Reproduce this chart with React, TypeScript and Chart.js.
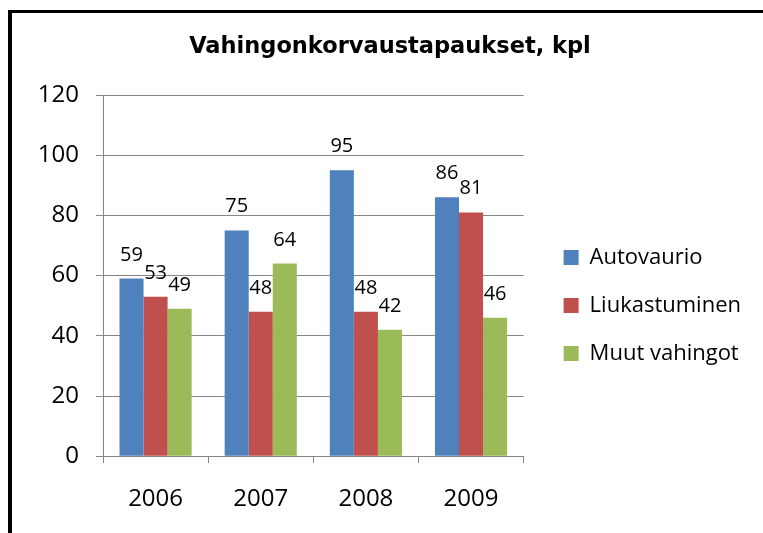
import React, { useEffect, useRef } from "react";
import { Chart, registerables } from "chart.js";

Chart.register(...registerables);

const categories = ["2006", "2007", "2008", "2009"];
const seriesNames = ["Autovaurio", "Liukastuminen", "Muut vahingot"];
const autovaurio = [59, 75, 95, 86];
const liukastuminen = [53, 48, 48, 81];
const muutVahingot = [49, 64, 42, 46];
const seriesColors = ["#4F81BD", "#C0504D", "#9BBB59"];
const yMin = 0;
const yMax = 120;
const yStep = 20;
const titleText = "Vahingonkorvaustapaukset, kpl";

const FONT = "'Open Sans', 'Liberation Sans', sans-serif";

const valueLabels = {
  id: "valueLabels",
  afterDatasetsDraw(chart: any) {
    const ctx = chart.ctx;
    ctx.save();
    ctx.font = `20px ${FONT}`;
    ctx.fillStyle = "#000000";
    ctx.textAlign = "center";
    ctx.textBaseline = "alphabetic";
    chart.data.datasets.forEach((ds: any, i: number) => {
      const meta = chart.getDatasetMeta(i);
      meta.data.forEach((bar: any, j: number) => {
        ctx.fillText(String(ds.data[j]), bar.x, bar.y - 18);
      });
    });
    ctx.restore();
  },
};

export default function App() {
  const ref = useRef<HTMLCanvasElement | null>(null);

  useEffect(() => {
    if (!ref.current) return;
    const seriesData = [autovaurio, liukastuminen, muutVahingot];
    const chart = new Chart(ref.current, {
      type: "bar",
      data: {
        labels: categories,
        datasets: seriesNames.map((name, i) => ({
          label: name,
          data: seriesData[i],
          backgroundColor: seriesColors[i],
          borderWidth: 0,
          categoryPercentage: 0.686,
          barPercentage: 1,
        })),
      },
      options: {
        animation: false,
        responsive: false,
        maintainAspectRatio: false,
        layout: { padding: { left: 17, right: 12, top: 0, bottom: -3 } },
        plugins: {
          title: {
            display: true,
            text: titleText,
            color: "#000000",
            font: { family: "'DejaVu Sans', sans-serif", size: 22.5, weight: "bold" },
            padding: { top: 21, bottom: 34 },
          },
          legend: {
            display: true,
            position: "right",
            maxWidth: 300,
            title: {
              display: true,
              text: "",
              font: { size: 10 },
              padding: { top: 50, bottom: 0 },
            },
            labels: {
              color: "#000000",
              font: { family: FONT, size: 22 },
              boxWidth: 15,
              boxHeight: 15,
              padding: 26,
            },
          },
          tooltip: { enabled: false },
        },
        scales: {
          x: {
            grid: {
              display: true,
              drawOnChartArea: false,
              drawTicks: true,
              tickLength: 7,
              color: "#868686",
              offset: true,
            },
            border: { display: true, color: "#868686", width: 1 },
            ticks: {
              color: "#000000",
              font: { family: FONT, size: 24 },
              padding: 22,
            },
          },
          y: {
            min: yMin,
            max: yMax,
            grid: {
              display: true,
              drawOnChartArea: true,
              drawTicks: true,
              tickLength: 7,
              color: "#868686",
            },
            border: { display: true, color: "#868686", width: 1 },
            ticks: {
              stepSize: yStep,
              color: "#000000",
              font: { family: FONT, size: 24 },
              padding: 17,
            },
            afterFit(scale: any) {
              scale.width = 74;
            },
          },
          gap: {
            type: "linear",
            position: "right",
            display: true,
            grid: { display: false },
            border: { display: false },
            ticks: { display: false },
            afterFit(scale: any) {
              scale.width = 14;
            },
          },
        },
      },
      plugins: [valueLabels],
    } as any);
    return () => chart.destroy();
  }, []);

  return (
    <>
      <div
        style={{
          position: "fixed",
          left: 8,
          top: 10,
          width: 755,
          height: 523,
          boxSizing: "border-box",
          borderLeft: "4px solid #000",
          borderTop: "3px solid #000",
          background: "#fff",
        }}
      />
      <canvas
        ref={ref}
        width={751}
        height={520}
        style={{ position: "fixed", left: 12, top: 13, width: 751, height: 520 }}
      />
    </>
  );
}
